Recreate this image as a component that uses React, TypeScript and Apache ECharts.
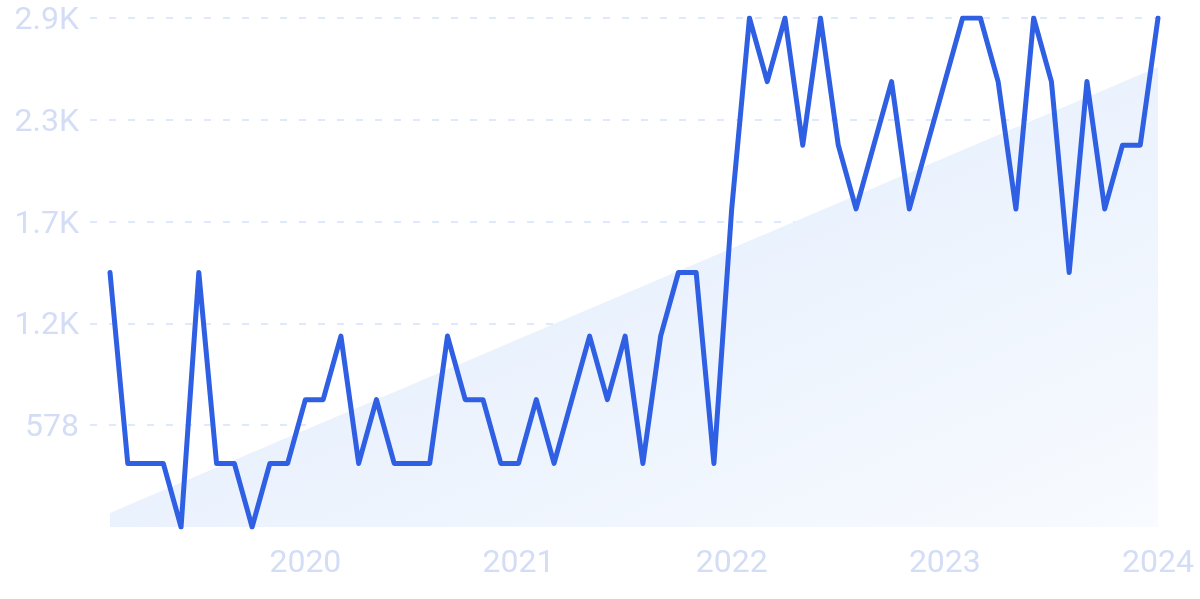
import React, { useEffect, useRef } from "react";
import * as echarts from "echarts";

// Monthly points, Feb 2019 .. Jan 2024 (index 0..59)
const startYear = 2019;
const startMonth = 1; // 0-based month => February
const values: number[] = [
  1445, 361, 361, 361, 0, 1445, 361, 361, 0, 361,
  361, 723, 723, 1084, 361, 723, 361, 361, 361, 1084,
  723, 723, 361, 361, 723, 361, 723, 1084, 723, 1084,
  361, 1084, 1445, 1445, 361, 1806, 2890, 2529, 2890, 2168,
  2890, 2168, 1806, 2168, 2529, 1806, 2168, 2529, 2890, 2890,
  2529, 1806, 2890, 2529, 1445, 2529, 1806, 2168, 2168, 2890,
];
// Trend line endpoints [month index, value]
const trend: [number, number][] = [
  [0, 80],
  [59, 2612],
];
const yearTickIndices: number[] = [11, 23, 35, 47, 59];
const yMax = 2890;
const yInterval = 578;

function fmtY(v: number): string {
  if (v >= 1000) return (v / 1000).toFixed(1).replace(/\.0$/, "") + "K";
  return String(Math.round(v));
}

export default function App() {
  const ref = useRef<HTMLDivElement>(null);
  useEffect(() => {
    if (!ref.current) return;
    const chart = echarts.init(ref.current, null, { renderer: "svg" });
    const gridColor = "#d3e3fb";
    const labelColor = "#d3ddf6";
    chart.setOption({
      animation: false,
      grid: { left: 90, right: 42, top: 18, bottom: 72, containLabel: false },
      xAxis: {
        type: "value",
        min: -1.126,
        max: 59,
        axisLine: { show: false },
        axisTick: { show: false },
        splitLine: { show: false },
        axisLabel: {
          customValues: yearTickIndices,
          formatter: (v: number) => String(startYear + Math.floor((startMonth + Math.round(v)) / 12)),
          color: labelColor,
          fontFamily: "Roboto",
          fontSize: 32,
          margin: 18,
        },
      },
      yAxis: {
        type: "value",
        min: 0,
        max: yMax,
        interval: yInterval,
        axisLine: { show: false },
        axisTick: { show: false },
        axisLabel: {
          showMinLabel: false,
          formatter: (v: number) => fmtY(v),
          color: labelColor,
          fontFamily: "Roboto",
          fontSize: 32,
          margin: 11,
        },
        splitLine: {
          show: true,
          lineStyle: {
            color: ["rgba(0,0,0,0)", gridColor, gridColor, gridColor, gridColor, gridColor],
            type: [7, 12],
            width: 1.5,
          },
        },
      },
      series: [
        {
          type: "line",
          data: trend,
          symbol: "none",
          lineStyle: { width: 0, opacity: 0 },
          areaStyle: {
            color: new echarts.graphic.LinearGradient(0, 0, 1, 1, [
              { offset: 0, color: "#dde9fb" },
              { offset: 1, color: "#f8fbff" },
            ]),
            opacity: 1,
          },
          silent: true,
          z: 1,
        },
        {
          type: "line",
          data: values.map((v, i) => [i, v]),
          symbol: "none",
          lineStyle: { color: "#2f5fe3", width: 5, join: "round", cap: "round" },
          z: 3,
        },
      ],
    });
    return () => chart.dispose();
  }, []);
  return (
    <div
      ref={ref}
      style={{ position: "fixed", left: 0, top: 0, width: 1200, height: 599 }}
    />
  );
}
